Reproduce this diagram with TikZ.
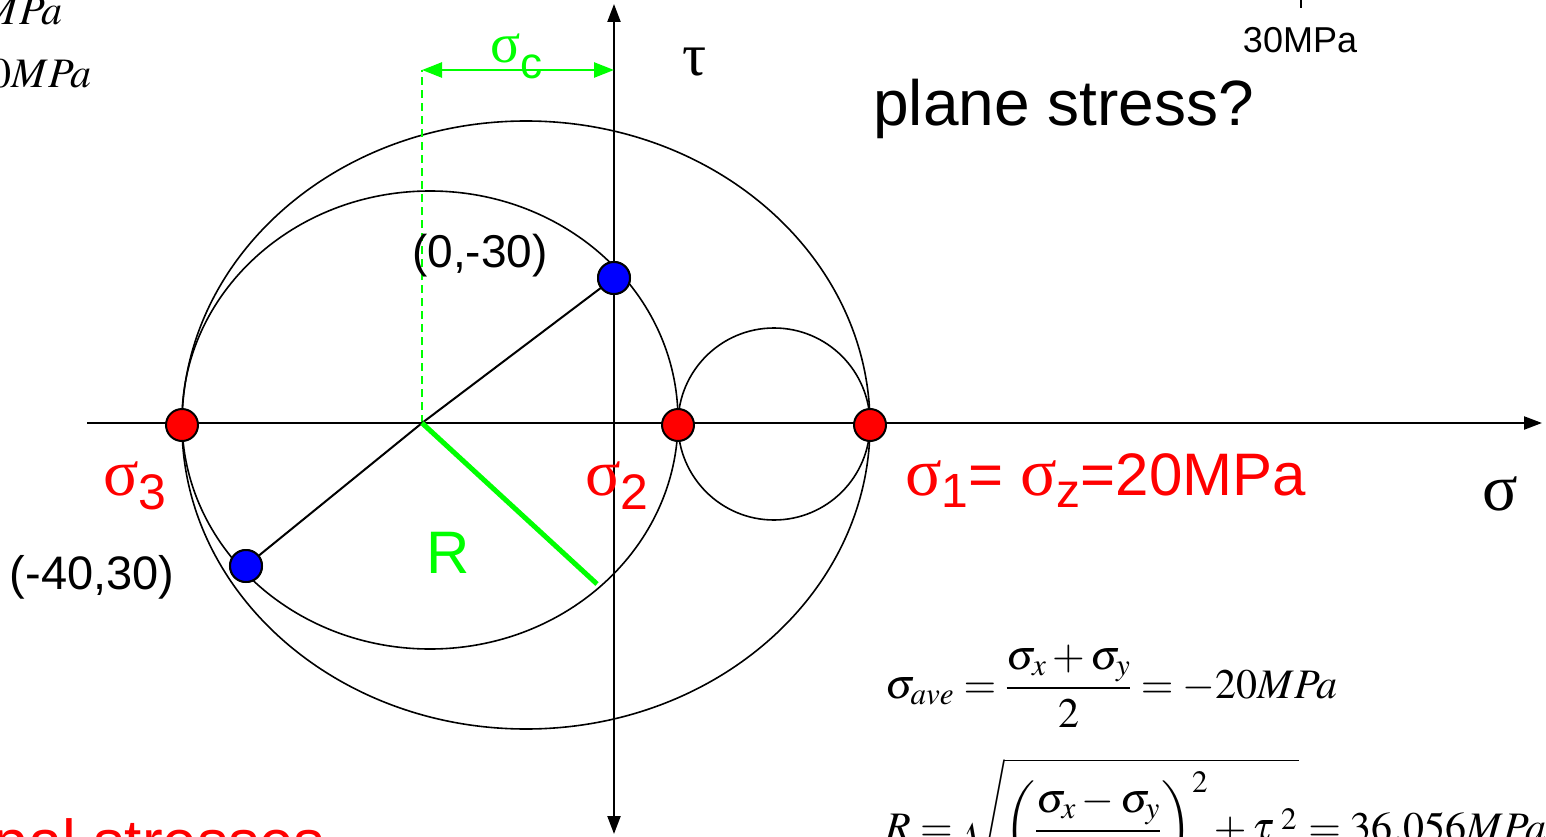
\documentclass[tikz,border=0pt]{standalone}
\usepackage{mathptmx}
\usepackage[no-math]{fontspec}
\setmainfont{Liberation Sans}
\newfontfamily\serifgr{Liberation Serif}
\usetikzlibrary{arrows.meta}
\definecolor{rgreen}{RGB}{0,255,0}
\definecolor{rred}{RGB}{255,0,0}
\definecolor{rblue}{RGB}{0,0,255}
\newcommand{\FS}[1]{\fontsize{#1}{#1}\selectfont}
\newcommand{\lowsub}[2]{\raisebox{-#1pt}{#2}}
\begin{document}
\begin{tikzpicture}[x=1pt,y=-1pt,
  curve/.style={line width=1.6pt},
  axisline/.style={line width=2.2pt,-{Triangle[length=18pt,width=13pt]}},
  dot/.style={circle,draw=black,line width=2pt,minimum size=32pt,inner sep=0pt},
  reddot/.style={dot,fill=rred},
  bluedot/.style={dot,fill=rblue},
  lbl/.style={inner sep=0pt},
  redlbl/.style={lbl,text=rred},
  greenlbl/.style={lbl,text=rgreen}]
\useasboundingbox (0,0) rectangle (1546,837);
\clip (0,0) rectangle (1546,837);
% axes
\draw[axisline] (87,423) -- (1542,423);
\draw[line width=2.2pt,{Triangle[length=18pt,width=13pt]}-{Triangle[length=18pt,width=13pt]}] (614,834) -- (614,4);
% circles
\draw[curve] (526,425) ellipse [x radius=344, y radius=304];
\draw[curve] (430,420) ellipse [x radius=248, y radius=229];
\draw[curve] (774,424) circle [radius=96];
% radius lines
\coordinate (C) at (422,423);
\coordinate (Rend) at (597,584);
\coordinate (Top) at (422,70);
\coordinate (Ax) at (614,70);
\draw[line width=2pt,rgreen,dashed,dash pattern=on 8pt off 5pt] (C) -- (Top);
\draw[line width=2.5pt,rgreen,{Triangle[length=20pt,width=15pt]}-{Triangle[length=20pt,width=15pt]}] (Top) -- (Ax);
\node[bluedot] (B1) at (614,278) {};
\node[bluedot] (B2) at (246,566) {};
\draw[line width=2pt] (B2.center) -- (C) -- (B1.center);
\node[bluedot] at (B1) {};
\node[bluedot] at (B2) {};
\draw[line width=5pt,rgreen] (C) -- (Rend);
% principal points
\node[reddot] (S3) at (182,425) {};
\node[reddot] (S2) at (678,425) {};
\node[reddot] (S1) at (870,425) {};
% labels
\node[greenlbl,anchor=base west] (sc) at (490,63) {\FS{56}\serifgr σ\lowsub{16}{\FS{44}\normalfont c}};
\node[lbl,anchor=center] (tau) at (695,62) {\FS{60}\serifgr τ};
\node[lbl,anchor=center] (sig) at (1500,494) {\FS{66}\serifgr σ};
\node[redlbl,anchor=base west] (l3) at (103,495) {\FS{66}\serifgr σ\lowsub{14}{\FS{50}\normalfont 3}};
\node[redlbl,anchor=base west] (l2) at (585,495) {\FS{66}\serifgr σ\lowsub{14}{\FS{50}\normalfont 2}};
\node[redlbl,anchor=base west] (l1) at (905,495) {\FS{60}{\serifgr\FS{68}σ}\lowsub{12}{\FS{48}1}= {\serifgr\FS{68}σ}\lowsub{12}{\FS{48}z}=20MPa};
\node[lbl,anchor=center] (p1) at (480,256) {\FS{46}(0,-30)};
\node[lbl,anchor=center] (p2) at (92,577) {\FS{47}(-40,30)};
\node[greenlbl,anchor=center] (Rl) at (448,553) {\FS{60}R};
\node[lbl,anchor=base west] (ps) at (873,126) {\FS{64}plane stress?};
\node[lbl,anchor=center] (m30) at (1300,40) {\FS{36}30MPa};
\draw[line width=2pt] (1301,0) -- (1301,8);
\node[lbl,anchor=base east] (tl1) at (63,25) {\FS{42}$MPa$};
\node[lbl,anchor=base east] (tl2) at (92,88) {\FS{42}$0MPa$};
\node[redlbl,anchor=base east] (ps2) at (325,863) {\FS{62}Principal stresses};
% formulas
\node[lbl,anchor=west] (f1) at (885,686) {\FS{42}$\displaystyle \sigma_{ave}=\frac{\sigma_x+\sigma_y}{2}=-20MPa$};
\node[lbl,anchor=west] (f2) at (885,822) {\FS{42}$\displaystyle R=\sqrt{\left(\frac{\sigma_x-\sigma_y}{2}\right)^2+\tau_{xy}^{\;2}}=36.056MPa$};
\end{tikzpicture}
\end{document}
